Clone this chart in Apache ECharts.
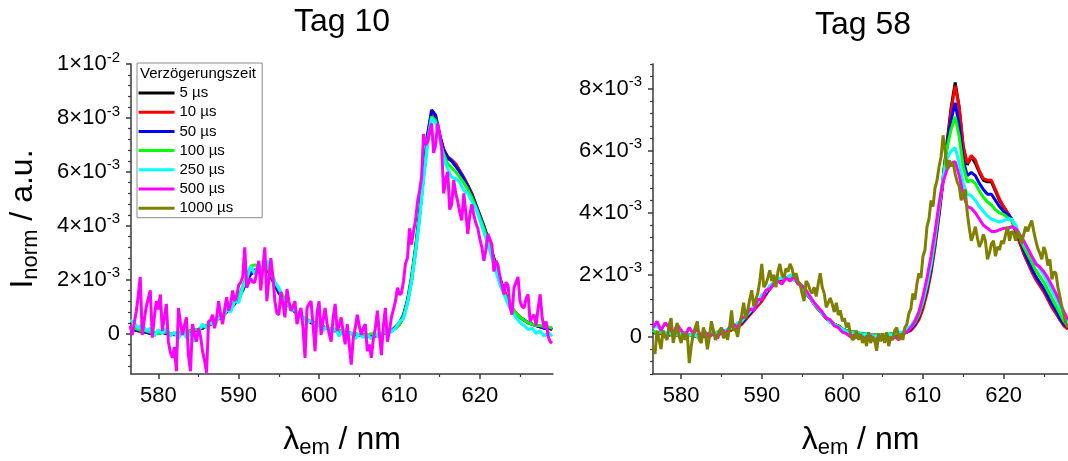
<!DOCTYPE html>
<html>
<head>
<meta charset="utf-8">
<script src="https://cdn.jsdelivr.net/npm/echarts@6/dist/echarts.min.js"></script>
<style>
  html, body { margin: 0; padding: 0; background: #fff; }
  #chart { width: 1068px; height: 461px; }
</style>
</head>
<body>
<div id="chart"></div>
<script>
const FONT = 'Arial, "Liberation Sans", sans-serif';
const AXIS_COLOR = '#3a3a3a';
const UNIT = 1e-4; // intensities below are listed in units of 1e-4

const seriesNames = ['5 µs', '10 µs', '50 µs', '100 µs', '250 µs', '500 µs', '1000 µs'];
const seriesColors = ['#000000', '#ff0000', '#0000ff', '#00ff00', '#00ffff', '#ff00ff', '#808000'];
const panelTitles = ['Tag 10', 'Tag 58'];

// ---------- Tag 10: spectra sampled from 576.5 nm in 0.5 nm steps ----------
const tag10Start = 576.5, tag10Step = 0.5;
const tag10_5us = [
  2,1.5,1,1,0.5,0.5,0,0,0.5,0,
  0,-0.5,0,0,0.5,0.5,1,1.5,2,2.5,
  3.5,4.5,5.5,6.5,8,9.5,11,13,16,19.5,
  22,23,23.5,24,24.5,21,18,15,13,11,
  9.5,8,7,6,5,4,3.5,3,2.5,2,
  1.5,1.5,1,0.5,0.5,0,0,-0.5,-0.5,-0.5,
  -0.5,-0.5,-0.5,0,0.5,1,2,3.5,6.5,12,
  20,31,44,59,73,82,80,73,68,65,
  64,62.5,60,57.5,55,52,48,44,40,35.5,
  30.5,25.5,20.5,16,12.5,9.5,7.5,6,5,4,
  3.5,3,2.5,2,2,1.5
];
const tag10_10us = [
  2,1.5,1,0.5,0.5,0,0,0.5,0.5,0,
  0,0,-0.5,0,0.5,1,1,1.5,2,3,
  3.5,4.5,5.5,7,8,9.5,11.5,13.5,16.5,20,
  22.5,23.5,24,24.5,24,21.5,18,15.5,13,11,
  9.5,8.5,7,6,5,4.5,3.5,3,2.5,2,
  1.5,1,1,0.5,0.5,0,-0.5,-0.5,-1,-0.5,
  -0.5,-1,-0.5,0,0.5,1,2,3.5,6,11.5,
  19.5,30.5,43.5,58.5,72,81,80,73.5,68.5,65.5,
  64.5,63,60.5,58,55,51.5,47.5,43.5,39.5,35,
  30,25,20,16,12.5,9.5,7.5,6,5,4,
  3.5,3,2.5,2,2,1.5
];
const tag10_50us = [
  2,1.5,1,1,0.5,0,0,0,0.5,0,
  -0.5,0,0,0.5,0.5,1,1,1.5,2,3,
  3.5,4.5,6,7,8.5,10,11.5,13.5,16.5,20,
  22.5,23.5,24,24.5,25,21.5,18.5,15.5,13,11.5,
  10,8.5,7,6,5,4.5,3.5,3,2.5,2,
  1.5,1,1,0.5,0,0,-0.5,-0.5,-0.5,-1,
  -0.5,-0.5,-0.5,0,0.5,1,2.5,4,7,12.5,
  21,32,45,60,74,83,81,74,68,65.5,
  64,62,60,57.5,54.5,51,47.5,43.5,39.5,35,
  30,25,20,15.5,12,9,7,6,5,4,
  3.5,3,2.5,2,2,2
];
const tag10_100us = [
  2.5,2,1.5,1,1,0.5,0.5,0,0.5,0.5,
  0,0,0.5,0,0.5,1,1.5,1.5,2.5,3,
  4,5,6,7,8.5,10,12,14,17.5,21.5,
  25,25.5,25,24.5,25,22,19,16.5,14,12,
  10,8.5,7.5,6,5.5,4.5,4,3,2.5,2,
  2,1.5,1,1,0.5,0,0,-0.5,-0.5,-0.5,
  0,-0.5,0,0,0.5,1,2,3.5,6.5,12,
  20.5,31.5,44,58.5,72,80.5,79,72,66.5,63,
  61.5,60,58,56,53.5,50.5,47,43,39,34.5,
  29.5,24.5,19.5,15.5,12,9.5,7.5,6,5,4,
  3.5,3,3,2.5,2.5,2
];
const tag10_250us = [
  5,4,2,3.5,1,2,-1,1.5,0,2,
  -1,0.5,-2,1,-1.5,0,-3,1,3.5,2,
  4,3,6,5.5,9,8,12,11.5,17,20,
  25,22,26,23,27,24,19,17,12.5,12,
  8.5,9,6,6.5,4,5,2.5,3.5,1,2.5,
  0,2,-1,1.5,-1.5,0.5,-2,0,-1.5,-0.5,
  -2,0,-1.5,0.5,1,0.5,2,4.5,5.5,11,
  19,30,42,57,70,80,78,72,65,61,
  58,57.5,56,53,52,49,46.5,42,37.5,33,
  28,23,18,14.5,11,8,6,4,3,1.5,
  2,0,1,-1,0.5,-1
];
// Tag 10, 500 µs trace, sampled from 576.5 nm in 0.25 nm steps
const tag10FineStart = 576.5, tag10FineStep = 0.25;
const tag10_500us = [
  3,-0.5,4,8,14,21,-0.5,5,10,13,16,-1.5,6,12,9,14.5,1,6,11,-3,
  -7,-9,-5,-14,9.5,4,-0.5,3,6,-8,-14,3.5,0,-3,2,-1,-6.5,-10,-14.5,4.5,
  5,7,2,6,12,7,3.5,9,13.5,8.5,11,16,12,14,18,19,21,32,17,19,
  20.5,19,19,23,27,16,24,32,12,20,28,21,12,7.5,7,15.5,11,6,16.5,12,
  8.5,10,12,3.5,7,9.5,2,-9,9.5,11,12,3,-6.5,8,12,-0.5,5,9.5,3.5,0,
  -3,6,11,1,3,6,0.5,-4,3.5,-4,-11.5,-1.5,2,7,3,-0.5,2,3.5,-6.5,-4,
  -9,-2,2,8.5,0,-8,3,9.5,-3,1,6,9,12,17,14.5,15,19.5,26,28,39,
  33,38,42,49,53,58,74,70,71,75,78,67,70,78,74,69,52,57,60,46,
  48,57,52,49,45,42,52,45,37,44,48,44,41,39,35,32,27,31,37,35,
  33,23,27,25.5,21,18,14.5,19,18,10,7,17,19,21,12,10,9.5,13,14.5,4.5,
  6,7,3,9.5,14.5,6,2,4.5,-1,-3,-3.5
];

// ---------- Tag 58: spectra sampled from 576.5 nm in 0.5 nm steps ----------
const tag58Start = 576.5, tag58Step = 0.5;
const tag58_5us = [
  1.5,1,1.5,0.5,1,0.5,1,0.5,0,0.5,
  0.5,0,0.5,0.5,0.5,1,1,1.5,1.5,2,
  2.5,3.5,4.5,6,7.5,9,10.5,12,14,15.5,
  17,18,18.5,19,19,18.5,17.5,16,14,12.5,
  10.5,9,7.5,6,5,4,3.5,2.5,2,1.5,
  1.5,1,1,1,0.5,0.5,0.5,0.5,0.5,0.5,
  0.5,0.5,1,1.5,2.5,4,6,10,15,21.5,
  30,40,51,63,74,82,74,61,55.5,58,
  56,53,50.5,50,50,47,44,42,40,38,
  34,30.5,27,24,21.5,19,17,15,12.5,10,
  8,5.5,4,2.5
];
const tag58_10us = [
  1.5,1,1,0.5,1,0.5,0.5,0.5,0,0.5,
  0.5,0,0.5,0,0.5,1,1,1,1.5,2,
  2.5,3,4,5.5,7,8.5,10,11.5,13.5,15.5,
  17,18,18.5,19,19,18.5,17.5,16,14.5,12.5,
  10.5,9,7.5,6,5,4,3.5,2.5,2,1.5,
  1.5,1,1,1,0.5,0.5,0.5,0.5,0.5,0.5,
  0.5,0.5,1,1.5,2,3.5,5.5,9,14,20.5,
  29,39,50,62,73,81,74,61.5,56,58.5,
  57,53.5,51,50.5,50.5,47.5,44.5,42,40,38,
  34,30.5,27,24,21,18.5,16.5,14.5,12,9.5,
  7.5,5.5,3.5,2.5
];
const tag58_50us = [
  1.5,1,1.5,1,0.5,1,0.5,0.5,0.5,0.5,
  0.5,0.5,0,0.5,1,1,1.5,1.5,2,2.5,
  3,3.5,4.5,6,7.5,9,11,12.5,14,16,
  17.5,18,19,19,19.5,18.5,17.5,16,14,12.5,
  11,9,7.5,6,5,4,3.5,2.5,2,1.5,
  1.5,1,1,0.5,0.5,0.5,0.5,0.5,0.5,1,
  1,1,1,1.5,2.5,4,6.5,10.5,15.5,22,
  30.5,40.5,51,62,70,75.5,68,57,52,53,
  52,49.5,47.5,46,46,44,42,40.5,39.5,38,
  35,31.5,28,25,22,19.5,17.5,15.5,13,10.5,
  8.5,6,4,3
];
const tag58_100us = [
  2,1,1.5,1,1,0.5,1,0.5,0.5,0.5,
  0.5,0.5,0.5,0.5,1,1,1.5,1.5,2,2.5,
  3,4,5,6.5,8,9.5,11,13,14.5,16,
  17.5,18.5,19,19,19.5,18.5,17.5,16,14.5,12.5,
  11,9,7.5,6,5,4,3.5,2.5,2,1.5,
  1.5,1,1,1,0.5,0.5,0.5,0.5,0.5,1,
  1,1,1.5,2,3,4.5,7,11,16.5,23,
  31.5,41.5,51.5,61,67,71,64.5,55,50,50.5,
  49.5,47,45,43.5,42.5,41,40,39.5,38.5,37.5,
  35,32,29,26.5,24,21.5,19.5,17.5,15,12.5,
  10,7.5,5,3.5
];
const tag58_250us = [
  3,3.5,2,1.5,1,2,0.5,1,1.5,0.5,
  1,0,0.5,1,0.5,1.5,1,1.5,2,3,
  3,4.5,5,7,8,10,11,13.5,14.5,16.5,
  17,18.5,19,18.5,20,18.5,17.5,16.5,14,13,
  10.5,9.5,7.5,6.5,4.5,4,3,2.5,1.5,1.5,
  1,1.5,0.5,1,0.5,0,0.5,0,1,0.5,
  1,1.5,1.5,2.5,3.5,5.5,8,12,17.5,24,
  32.5,42,51,57.5,60,61,56,49.5,46,45.5,
  44,42,40.5,39,38,37.5,37,37.5,38,38,
  36,33,30.5,28,26,24,22,20,17.5,15,
  12.5,9.5,6.5,4.5
];
const tag58_500us = [
  3,5,2,4.5,3,1,4,2,0.5,3,
  1,2.5,0,1.5,0,1,-0.5,2.5,1,3,
  4,3,6,6.5,9,8.5,12,12,15,15.5,
  17,18,17,19,18,19.5,17,16.5,15,13,
  11,9.5,8,6,5.5,3.5,3,1.5,1,0,
  0.5,-0.5,0,-1,0.5,-1.5,0,-1,0.5,-1,
  0,-1,1,1.5,3,5,8,13,19,26,
  34,43,50,54,56,56.5,52,46,42,41.5,
  40,38,36,35,34,34,34.5,35,35,35.5,
  35,33,31,28.5,26,23.5,22.5,21,19,16.5,
  14,11,8,5.5
];
// Tag 58, 1000 µs trace, sampled from 576.5 nm in 0.25 nm steps
const tag58FineStart = 576.5, tag58FineStep = 0.25;
const tag58_1000us = [
  -3,-5.5,2,-1,-4,2,0,-1,4,6,-2,1,4.5,0,-2,1.5,-1,1,-8.5,-3,
  1,3,5,-1,-2,3,1,-4,0,5,2,-1,0.5,2,3,-0.5,1.5,-1,3,8.5,
  2,2.5,0,4,7,11,6,8.5,12,15,10,12,14,18,23.5,16,17,19,21.5,18,
  20,16,21,23.5,20,19,22,21,23.5,22,19,20.5,18,17,14,11.5,18,17,15,14,
  16,13,17,20.5,16,14,9.5,11,12.5,10.5,8,11,7,8.5,5,6,3,4.5,1,-1,
  -0.5,2,-1,1,-2,0,-3,1.5,-2,0,-1,-4.5,1,-1.5,1,-2,1.5,-3,0,-1,
  2,3,-1,1,-1,3,4,7.5,9,14,12,17,20.5,19,26,28,35.5,38,44,42,
  48,50.5,55,58,65,60,54,57,55,56,52.5,50,48.5,44,46,47.5,40,35,31,33,
  35.5,32,29,30.5,33,31,25,27,30,31,26,29,28,31,30,33,35.5,31,34,33.5,
  31,34,32.5,30,33,35.5,34,36,37.5,34,31,28.5,27,25,29,27,23,25,18.5,21,
  20.5,16,13,9.5,7,4,3
];

// ---------- axis ranges and ticks ----------
const xRangeTag10 = [576.6, 629.1];
const xRangeTag58 = [576.5, 628.0];
const yRangeTag10 = [-15, 100];   // units of 1e-4
const yRangeTag58 = [-12, 88];
const xTicks = [580, 590, 600, 610, 620];
const xMinorTicks = [585, 595, 605, 615, 625];
const yTicksTag10 = [0, 20, 40, 60, 80, 100];
const yTicksTag58 = [0, 20, 40, 60, 80];
const yMinorTicksTag10 = [-12,-8,-4,4,8,12,16,24,28,32,36,44,48,52,56,64,68,72,76,84,88,92,96];
const yMinorTicksTag58 = [-12,-8,-4,4,8,12,16,24,28,32,36,44,48,52,56,64,68,72,76,84,88];

function toPairs(start, step, values) {
  return values.map((v, i) => [+(start + i * step).toFixed(3), v * UNIT]);
}
const scaled = arr => arr.map(v => v * UNIT);

// "8×10⁻³" style labels
function sciLabel(v) {
  if (Math.abs(v) < 1e-12) return '{m|0}';
  const e = Math.floor(Math.log10(Math.abs(v)) + 1e-9);
  const m = Math.round(v / Math.pow(10, e));
  return '{m|' + m + '×10}{e|' + e + '}';
}

const nameRich = {
  l: { fontSize: 32, lineHeight: 38, fontFamily: FONT, color: '#000' },
  s: { fontSize: 22, lineHeight: 14, verticalAlign: 'bottom', fontFamily: FONT, color: '#000' }
};
const tickRich = {
  m: { fontSize: 22, lineHeight: 28, fontFamily: FONT, color: '#000' },
  e: { fontSize: 15, lineHeight: 14, verticalAlign: 'top', fontFamily: FONT, color: '#000' }
};

function majorX(gridIndex, range) {
  return {
    type: 'value', gridIndex, min: range[0], max: range[1], position: 'bottom',
    axisLine: { show: true, onZero: false, lineStyle: { color: AXIS_COLOR, width: 1.5 } },
    axisTick: { show: true, customValues: xTicks, length: 5, lineStyle: { color: AXIS_COLOR, width: 1.5 } },
    axisLabel: { customValues: xTicks, fontSize: 22, fontFamily: FONT, color: '#000', margin: 11 },
    splitLine: { show: false },
    name: '{l|λ}{s|em}{l| / nm}', nameLocation: 'middle', nameGap: 47,
    nameTextStyle: { rich: nameRich }
  };
}
function minorX(gridIndex, range) {
  return {
    type: 'value', gridIndex, min: range[0], max: range[1], position: 'bottom',
    axisLine: { show: false, onZero: false },
    axisTick: { show: true, customValues: xMinorTicks, length: 3, lineStyle: { color: AXIS_COLOR, width: 1.2 } },
    axisLabel: { show: false }, splitLine: { show: false }
  };
}
function majorY(gridIndex, range, ticks, withName) {
  const ax = {
    type: 'value', gridIndex, min: range[0] * UNIT, max: range[1] * UNIT, position: 'left',
    axisLine: { show: true, onZero: false, lineStyle: { color: AXIS_COLOR, width: 1.5 } },
    axisTick: { show: true, customValues: scaled(ticks), length: 5, lineStyle: { color: AXIS_COLOR, width: 1.5 } },
    axisLabel: { customValues: scaled(ticks), formatter: sciLabel, rich: tickRich, margin: 11 },
    splitLine: { show: false }
  };
  if (withName) {
    ax.name = '{l|I}{s|norm}{l| / a.u.}';
    ax.nameLocation = 'middle';
    ax.nameGap = 89;
    ax.nameTextStyle = { rich: nameRich };
  }
  return ax;
}
function minorY(gridIndex, range, ticks) {
  return {
    type: 'value', gridIndex, min: range[0] * UNIT, max: range[1] * UNIT, position: 'left',
    axisLine: { show: false, onZero: false },
    axisTick: { show: true, customValues: scaled(ticks), length: 3, lineStyle: { color: AXIS_COLOR, width: 1.2 } },
    axisLabel: { show: false }, splitLine: { show: false }
  };
}

function lineSeries(idx, axisIndex, data) {
  return {
    type: 'line', name: seriesNames[idx], xAxisIndex: axisIndex, yAxisIndex: axisIndex,
    data, showSymbol: false, symbol: 'none',
    lineStyle: { color: seriesColors[idx], width: 3 },
    itemStyle: { color: seriesColors[idx] },
    emphasis: { disabled: true }
  };
}

const tag10Coarse = [tag10_5us, tag10_10us, tag10_50us, tag10_100us, tag10_250us];
const tag58Coarse = [tag58_5us, tag58_10us, tag58_50us, tag58_100us, tag58_250us, tag58_500us];

const series = [];
tag10Coarse.forEach((vals, i) => series.push(lineSeries(i, 0, toPairs(tag10Start, tag10Step, vals))));
series.push(lineSeries(5, 0, toPairs(tag10FineStart, tag10FineStep, tag10_500us)));
tag58Coarse.forEach((vals, i) => series.push(lineSeries(i, 2, toPairs(tag58Start, tag58Step, vals))));
series.push(lineSeries(6, 2, toPairs(tag58FineStart, tag58FineStep, tag58_1000us)));

const chart = echarts.init(document.getElementById('chart'), null, { renderer: 'canvas' });
chart.setOption({
  animation: false,
  backgroundColor: '#ffffff',
  textStyle: { fontFamily: FONT },
  grid: [
    { left: 131, top: 64, width: 422, height: 310, containLabel: false, outerBoundsMode: 'none' },
    { left: 653, top: 64, width: 415, height: 310, containLabel: false, outerBoundsMode: 'none' }
  ],
  xAxis: [majorX(0, xRangeTag10), minorX(0, xRangeTag10), majorX(1, xRangeTag58), minorX(1, xRangeTag58)],
  yAxis: [
    majorY(0, yRangeTag10, yTicksTag10, true), minorY(0, yRangeTag10, yMinorTicksTag10),
    majorY(1, yRangeTag58, yTicksTag58, false), minorY(1, yRangeTag58, yMinorTicksTag58)
  ],
  legend: {
    orient: 'vertical', left: 137, top: 63,
    data: seriesNames, icon: 'rect', itemWidth: 36, itemHeight: 3, itemGap: 3.2,
    padding: [22, 29, 1.5, 1.5],
    borderColor: '#8a8a8a', borderWidth: 1,
    textStyle: { fontSize: 15, lineHeight: 16, fontFamily: FONT, color: '#000' }
  },
  graphic: [
    { type: 'text', x: 342, y: 22, style: { text: panelTitles[0], fontSize: 32, fontFamily: FONT, fill: '#000', align: 'center', verticalAlign: 'middle', textAlign: 'center', textVerticalAlign: 'middle' } },
    { type: 'text', x: 863, y: 25, style: { text: panelTitles[1], fontSize: 32, fontFamily: FONT, fill: '#000', align: 'center', verticalAlign: 'middle', textAlign: 'center', textVerticalAlign: 'middle' } },
    { type: 'text', x: 140, y: 74, style: { text: 'Verzögerungszeit', fontSize: 15, fontFamily: FONT, fill: '#000', align: 'left', verticalAlign: 'middle', textAlign: 'left', textVerticalAlign: 'middle' } }
  ],
  series
});
</script>
</body>
</html>
